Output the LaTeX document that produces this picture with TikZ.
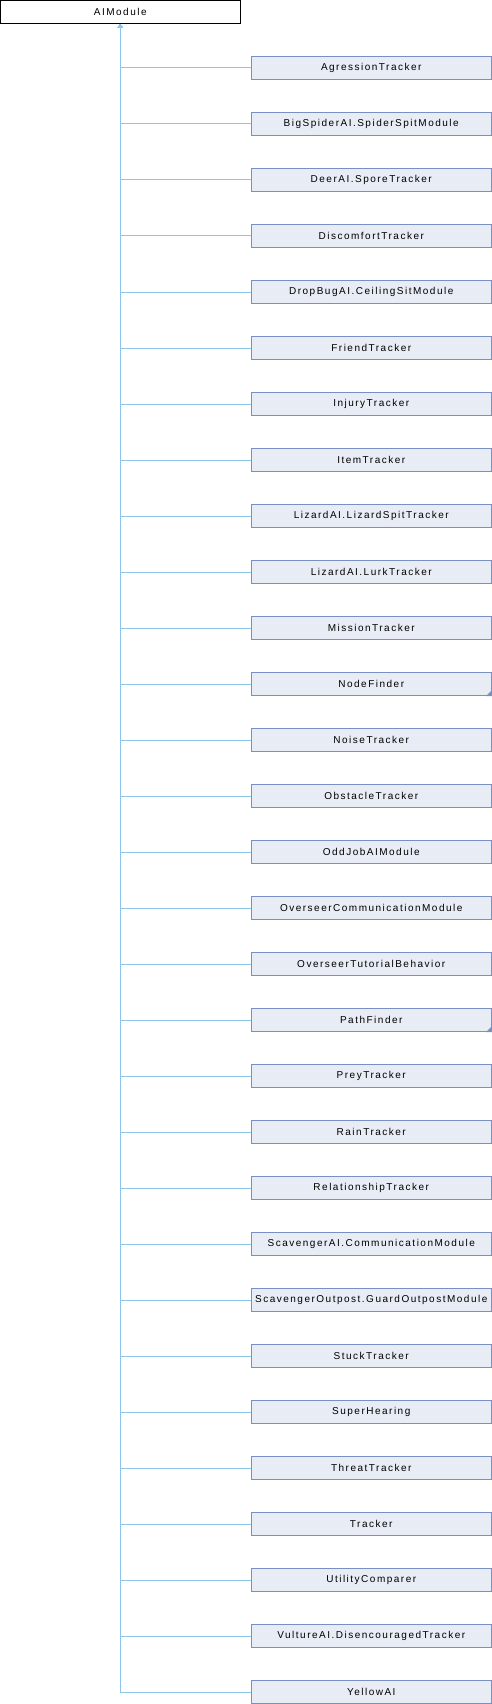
\documentclass[tikz,border=0pt]{standalone}
\usepackage{fontspec}
\setmainfont[LetterSpace=15]{Liberation Sans}
\usetikzlibrary{arrows.meta}
\definecolor{boxfill}{HTML}{E8ECF5}
\definecolor{boxline}{HTML}{7A8FC4}
\definecolor{edgeblue}{HTML}{8BC5EA}
\tikzset{
  rootbox/.style = {draw=black, fill=white, line width=1pt, minimum width=239.5pt,
    minimum height=23pt, inner sep=0pt, font=\fontsize{10}{12}\selectfont},
  classbox/.style = {draw=boxline, fill=boxfill, line width=1pt, minimum width=240.5pt,
    minimum height=23pt, inner sep=0pt, font=\fontsize{10}{12}\selectfont},
  inherit/.style = {draw=edgeblue, line width=1pt},
  moretip/.style = {fill=boxline, draw=none}
}
\begin{document}
\begin{tikzpicture}[x=1pt, y=-1pt]
\useasboundingbox (0,0) rectangle (492,1704);
\node[rootbox] (root) at (120.25,12) {AIModule};

\foreach \name [count=\i] in {AgressionTracker, BigSpiderAI.SpiderSpitModule,
  DeerAI.SporeTracker, DiscomfortTracker, DropBugAI.CeilingSitModule,
  FriendTracker, InjuryTracker, ItemTracker, LizardAI.LizardSpitTracker,
  LizardAI.LurkTracker, MissionTracker, NodeFinder, NoiseTracker,
  ObstacleTracker, OddJobAIModule, OverseerCommunicationModule,
  OverseerTutorialBehavior, PathFinder, PreyTracker, RainTracker,
  RelationshipTracker, ScavengerAI.CommunicationModule,
  ScavengerOutpost.GuardOutpostModule, StuckTracker, SuperHearing,
  ThreatTracker, Tracker, UtilityComparer, VultureAI.DisencouragedTracker,
  YellowAI}
{
  \node[classbox] (c\i) at (371.25,{68+56*(\i-1)}) {\name};
  \draw[inherit, {Triangle[open, width=5pt, length=4pt]}-] (root.south) |- (c\i.west);
}

% classes with more to show
\foreach \k in {12,18} {\fill[moretip] (c\k.south east) -- ++(-6,0) -- ++(6,-6) -- cycle;}

\end{tikzpicture}
\end{document}
